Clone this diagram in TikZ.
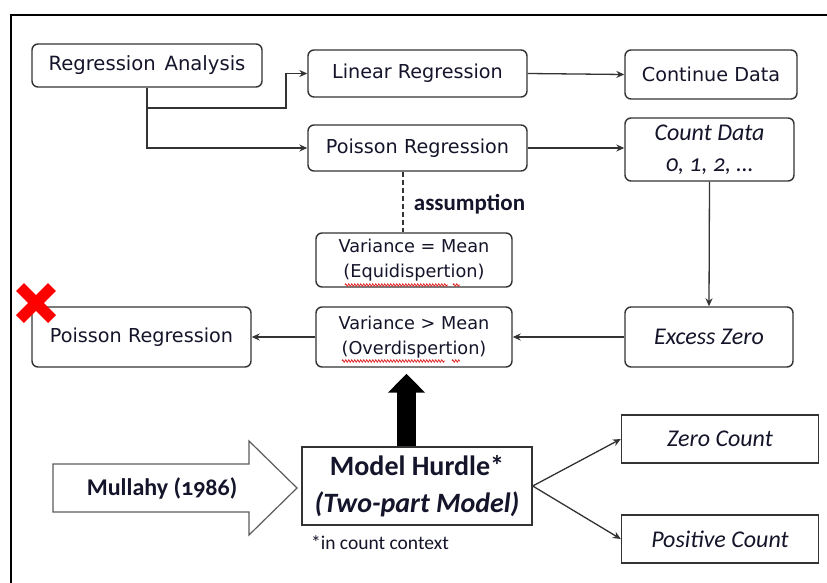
\documentclass[tikz,border=0pt]{standalone}
\usepackage{fontspec}
\setmainfont{DejaVu Sans}
\newfontfamily\calfont[Numbers=OldStyle]{Carlito}
\usetikzlibrary{arrows.meta,decorations.pathmorphing,calc}
\definecolor{edge}{HTML}{333333}
\definecolor{txt}{HTML}{14142A}
\definecolor{xred}{HTML}{FF0000}
\definecolor{squig}{HTML}{E02828}
\begin{document}
\begin{tikzpicture}[x=1pt,y=-1pt,
  rbox/.style={draw=edge, line width=1.4pt, rounded corners=6pt, inner sep=0pt, align=center, text=txt, fill=white},
  sbox/.style={draw=edge, line width=1.4pt, inner sep=0pt, align=center, text=txt, fill=white},
  conn/.style={draw=edge, line width=1.3pt, -{Stealth[length=8pt,width=7pt]}},
  plain/.style={draw=edge, line width=1.3pt},
  tah/.style={font=\fontsize{19.2}{23}\selectfont},
  tahs/.style={font=\fontsize{17.7}{25}\selectfont},
  cali/.style={font=\calfont\itshape\fontsize{24}{31}\selectfont},
  squiggle/.style={draw=squig, line width=0.8pt, decorate, decoration={zigzag, segment length=3pt, amplitude=1.2pt}},
  lbl/.style={inner sep=0pt, text=txt}
]
\useasboundingbox (0,0) rectangle (827,583);
\fill[white] (0,0) rectangle (827,583);
% frame
\draw[black, line width=1.6pt] (11,590) -- (11,15) -- (840,15);

% nodes
\node[rbox, font=\fontsize{19.6}{23}\selectfont, minimum width=230pt, minimum height=43pt] (ra) at (147,65.5) {Regression\hspace{0.45em}Analysis};
\node[rbox, tah, minimum width=219pt, minimum height=47pt] (lr) at (417.5,73.5) {Linear Regression};
\node[rbox, tah, minimum width=172pt, minimum height=49pt] (cd) at (711,74.5) {Continue Data};
\node[rbox, tah, minimum width=219pt, minimum height=46pt] (pr) at (417.5,148) {Poisson Regression};
\node[rbox, cali, minimum width=169pt, minimum height=63pt] (cnt) at (709.5,149.5) {Count Data\\0, 1, 2, …};
\node[rbox, tahs, minimum width=196pt, minimum height=54pt] (vem) at (414,260) {Variance = Mean\\(Equidispertion)};
\node[rbox, tahs, minimum width=196pt, minimum height=60pt] (vgm) at (414,337) {Variance > Mean\\(Overdispertion)};
\node[rbox, tah, minimum width=219pt, minimum height=60pt] (pl) at (141.5,337) {Poisson Regression};
\node[rbox, cali, minimum width=168pt, minimum height=60pt] (ez) at (709,337) {Excess Zero};
\node[sbox, font=\calfont\bfseries\fontsize{28}{37}\selectfont, minimum width=230pt, minimum height=78pt] (mh) at (417,486) {Model Hurdle*\\\textit{(Two-part Model)}};
\node[sbox, cali, minimum width=197pt, minimum height=48pt] (zc) at (720,439) {Zero Count};
\node[sbox, cali, minimum width=197pt, minimum height=48pt] (pc) at (720,539) {Positive Count};

% labels
\node[lbl, font=\calfont\bfseries\fontsize{23}{28}\selectfont] (asm) at (469.5,204) {assumption};
\node[lbl, font=\calfont\fontsize{19.5}{24}\selectfont] (note) at (380,543) {*in count context};

% spell-check squiggles
\draw[squiggle] (345,285) -- (448,285);
\draw[squiggle] (453,285) -- (460,285);
\draw[squiggle] (342,361) -- (445,361);
\draw[squiggle] (452,361) -- (460,361);

% connectors
\coordinate (j1) at (147,108);
\coordinate (j2) at (286,108);
\draw[conn] (ra.south) -- (j1) -- (j2) |- (lr.west);
\draw[conn] (ra.south) |- (pr.west);
\draw[conn] (lr.east) -- (cd.west);
\draw[conn] (pr.east) -- (pr.east -| cnt.west);
\coordinate (dx) at (403,0);
\draw[plain, dashed, dash pattern=on 5pt off 3pt] (pr.south -| dx) -- (vem.north -| dx);
\draw[conn] (cnt.south) -- (ez.north);
\draw[conn] (ez.west) -- (vgm.east);
\draw[conn] (vgm.west) -- (pl.east);
\draw[conn] (mh.east) -- (zc.west);
\draw[conn] (mh.east) -- (pc.west);

% big black arrow
\draw[black, line width=19pt, -{Triangle[length=19pt,width=36pt]}] ($(mh.north)+(-10.5,0)$) -- ($(vgm.south)+(-7.5,6)$);

% Mullahy block arrow
\draw[draw=edge!80, line width=1.2pt, fill=white] (53,464) -- (249,464) -- (249,441) -- (297,488) -- (249,535) -- (249,512) -- (53,512) -- cycle;
\node[lbl, font=\calfont\bfseries\fontsize{24}{28}\selectfont] (mul) at (162,488) {Mullahy (1986)};

% red cross
\draw[xred, line width=11pt] (20,287) -- (52,319);
\draw[xred, line width=11pt] (20,319) -- (52,287);
\end{tikzpicture}
\end{document}
